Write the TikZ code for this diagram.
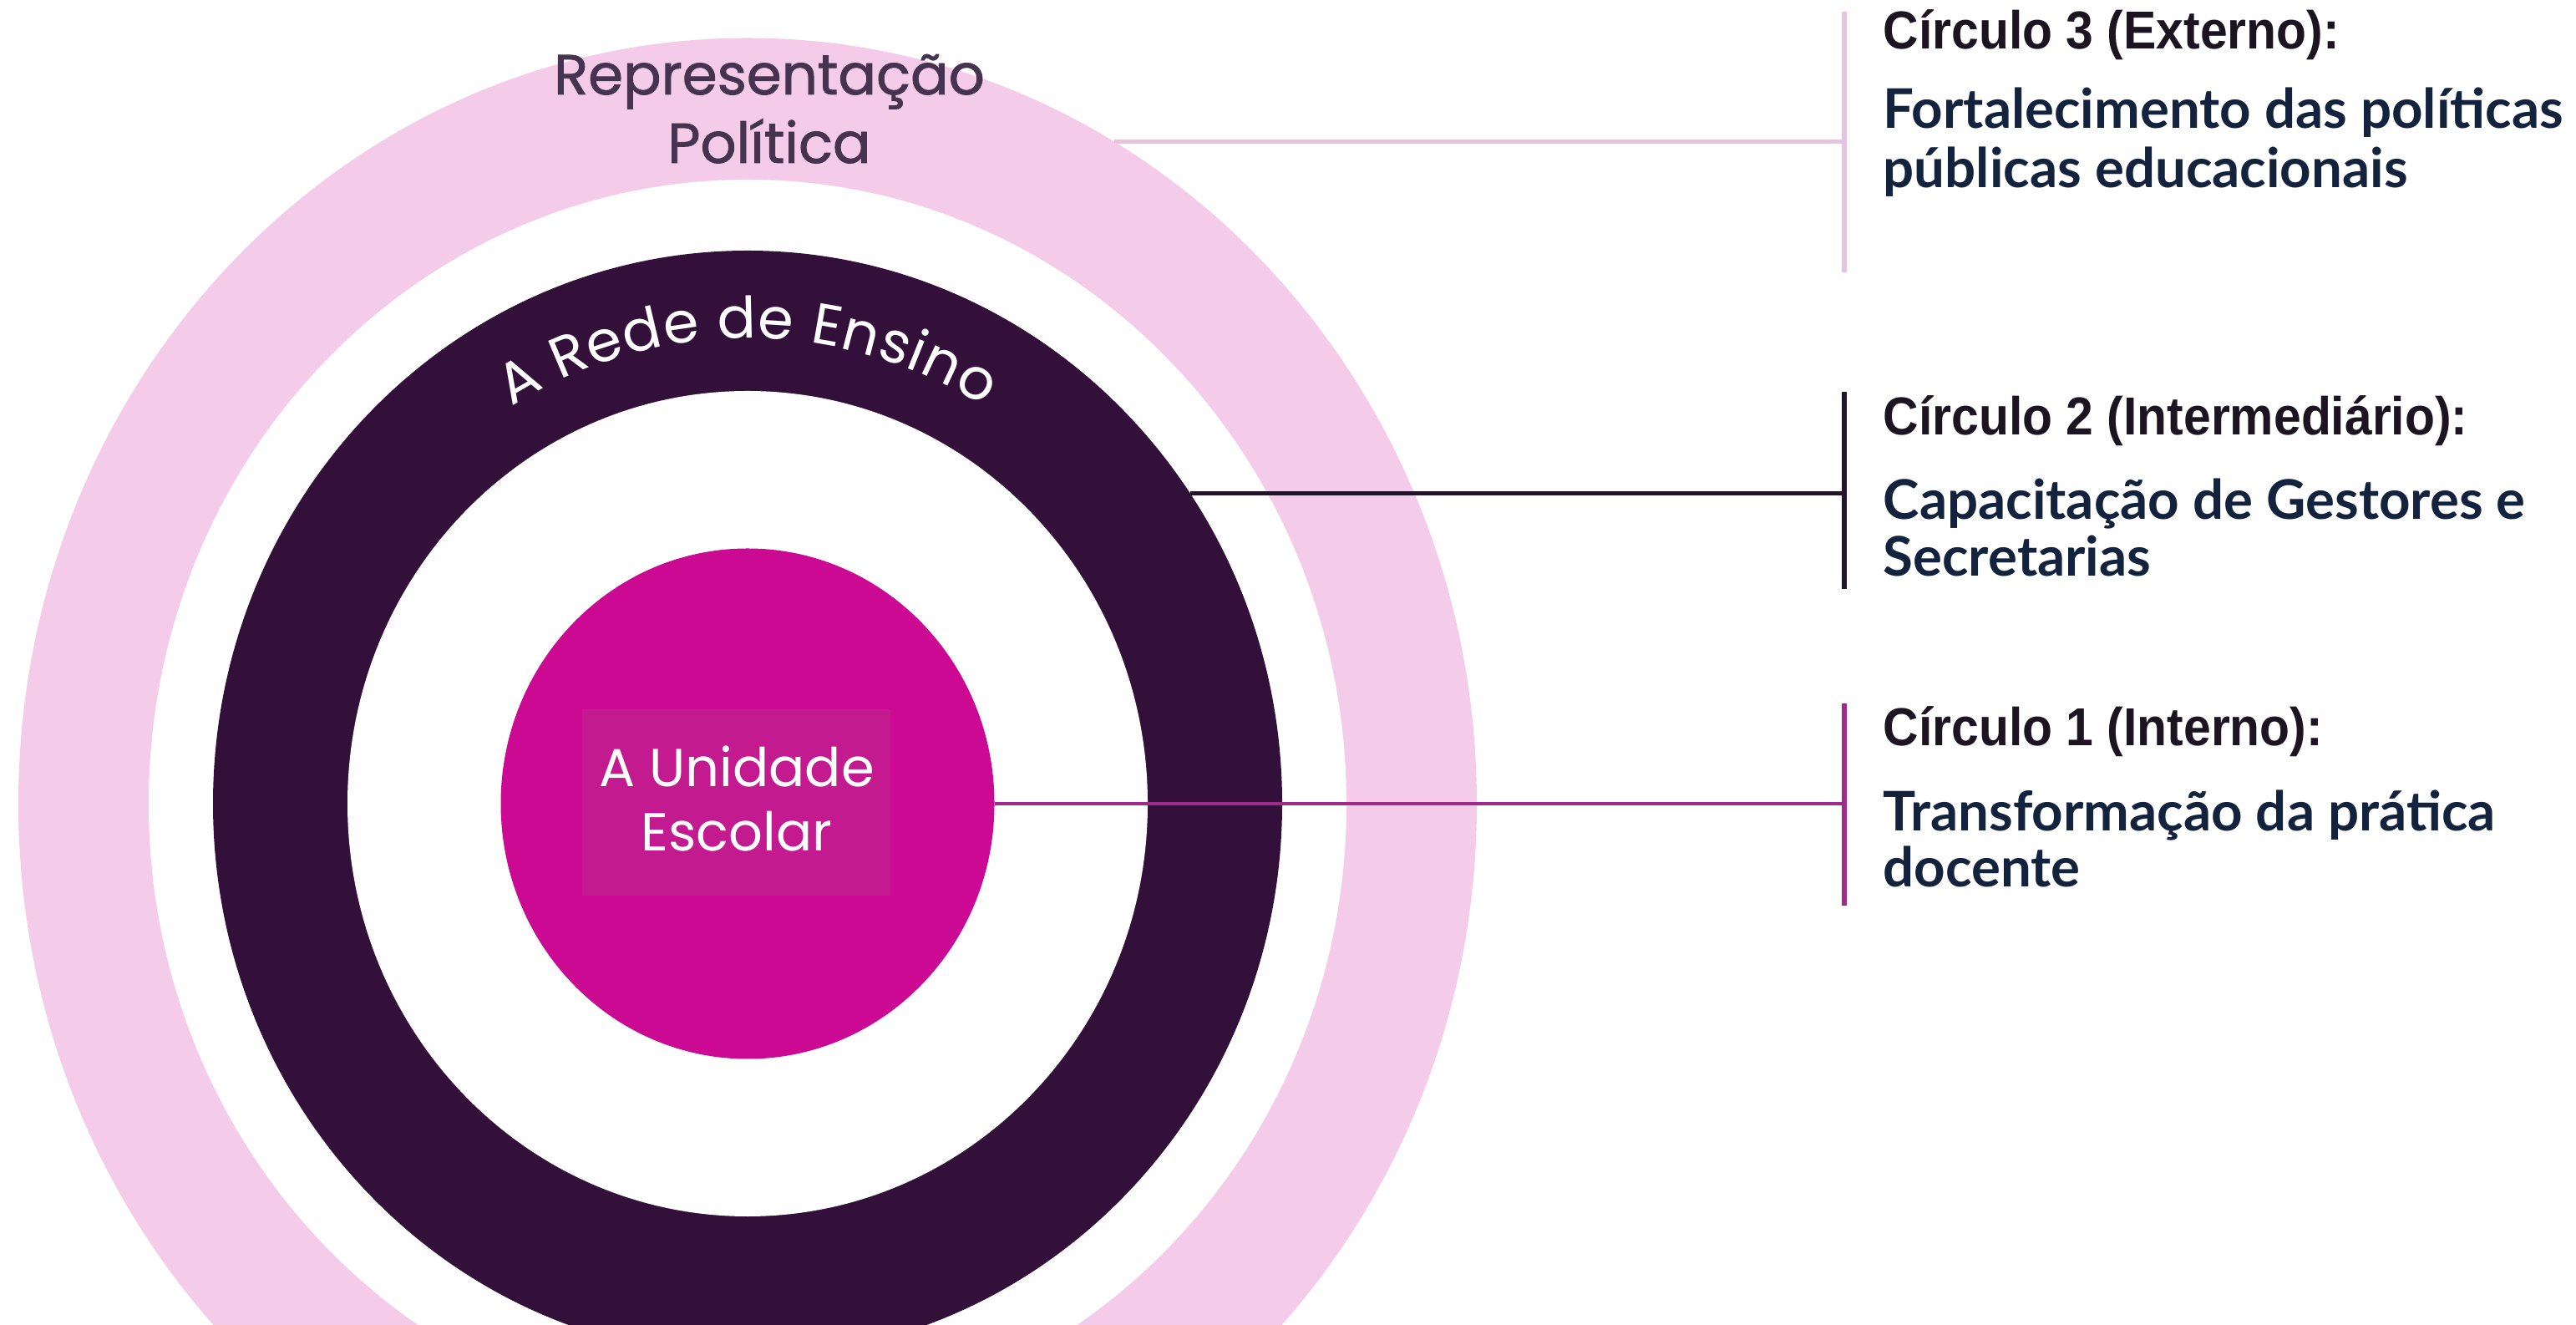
\documentclass[tikz,border=0pt]{standalone}
\usepackage{fontspec}
\usetikzlibrary{shapes.geometric,decorations.text,calc}
\newfontfamily\labelfont{Poppins}
\newfontfamily\labelfontm{Poppins}[FakeBold=1.3]
\newfontfamily\headfont{Liberation Sans}[FakeStretch=0.92]
\newfontfamily\bodyfont{Lato}
\definecolor{pinkring}{HTML}{F4CCE9}
\definecolor{darkring}{HTML}{33103A}
\definecolor{magentac}{HTML}{CC0993}
\definecolor{boxc}{HTML}{C31B8F}
\definecolor{repc}{HTML}{45334F}
\definecolor{headc}{HTML}{1C1421}
\definecolor{bodyc}{HTML}{13233D}
\definecolor{line3c}{HTML}{E8C2E0}
\definecolor{line2c}{HTML}{22142A}
\definecolor{line1c}{HTML}{9E2A8C}
\begin{document}
\begin{tikzpicture}[x=1cm,y=1cm,
  ring/.style={ellipse, inner sep=0pt, outer sep=0pt, draw=none},
  conn/.style={line width=1.4pt},
  bar/.style={line width=1.8pt},
  head/.style={anchor=base west, inner sep=0pt, font=\headfont\bfseries\fontsize{18.2}{20}\selectfont, text=headc},
  body/.style={anchor=base west, inner sep=0pt, font=\bodyfont\bfseries\fontsize{18.6}{20}\selectfont, text=bodyc},
  clab/.style={anchor=base, inner sep=0pt, font=\labelfontm\fontsize{19.2}{22}\selectfont, text=repc},
  ulab/.style={anchor=base, inner sep=0pt, font=\labelfont\fontsize{18.2}{22}\selectfont, text=white}]
\useasboundingbox (0,0) rectangle (30.84,15.85);
\fill[white] (0,0) rectangle (30.84,15.85);
\coordinate (c) at (8.95,6.23);
\begin{scope}
  \clip (0,0) rectangle (30.84,15.85);
  \node[ring, fill=pinkring, minimum width=17.46cm, minimum height=18.33cm] (outer) at (c) {};
  \node[ring, fill=white, minimum width=14.34cm, minimum height=14.94cm] (gap2) at (c) {};
  \node[ring, fill=darkring, minimum width=12.80cm, minimum height=13.24cm] (middle) at (c) {};
  \node[ring, fill=white, minimum width=9.58cm, minimum height=9.88cm] (gap1) at (c) {};
  \node[ring, fill=magentac, minimum width=5.91cm, minimum height=6.11cm] (inner) at (c) {};
\end{scope}
% curved label
\path[decorate, decoration={text along path,
    text={|\labelfont\fontsize{19.5}{20}\selectfont|A Rede de Ensino},
    text color=white, text align={fit to path}}]
  ($(c)+(121.5:5.41cm and 5.57cm)$) arc[start angle=121.5, end angle=58.5, x radius=5.41cm, y radius=5.57cm];
% labels on circles
\node[clab] (rep1) at (9.21,14.72) {Representação};
\node[clab] (rep2) at (9.21,13.90) {Política};
\node[fill=boxc, minimum width=3.69cm, minimum height=2.23cm, inner sep=0pt] (ubox) at (8.815,6.245) {};
\node[ulab] (u1) at (8.82,6.43) {A Unidade};
\node[ulab] (u2) at (8.82,5.66) {Escolar};
% bars
\coordinate (b3t) at (22.08,15.71); \coordinate (b3b) at (22.08,12.59);
\coordinate (b2t) at (22.08,11.16); \coordinate (b2b) at (22.08,8.80);
\coordinate (b1t) at (22.08,7.43);  \coordinate (b1b) at (22.08,5.01);
\draw[bar, line3c] (b3t) -- (b3b);
\draw[bar, line2c] (b2t) -- (b2b);
\draw[bar, line1c] (b1t) -- (b1b);
% connectors
\draw[conn, line3c] (outer.61) -- (outer.61 -| b3t);
\draw[conn, line2c] (middle.35) -- (middle.35 -| b2t);
\draw[conn, line1c] (inner.east) -- (inner.east -| b1t);
% right texts
\node[head] (h3) at (22.54,15.26) {Círculo 3 (Externo):};
\node[body] (t3a) at (22.54,14.31) {Fortalecimento das políticas};
\node[body] (t3b) at (22.54,13.60) {públicas educacionais};
\node[head] (h2) at (22.54,10.64) {Círculo 2 (Intermediário):};
\node[body] (t2a) at (22.54,9.63) {Capacitação de Gestores e};
\node[body] (t2b) at (22.54,8.95) {Secretarias};
\node[head] (h1) at (22.54,6.92) {Círculo 1 (Interno):};
\node[body] (t1a) at (22.54,5.90) {Transformação da prática};
\node[body] (t1b) at (22.54,5.23) {docente};
\end{tikzpicture}
\end{document}
